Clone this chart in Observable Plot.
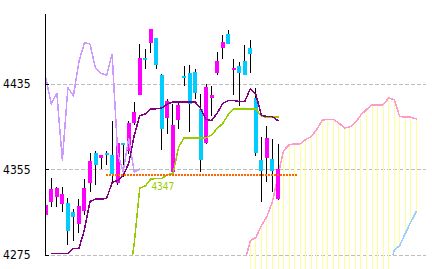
<!DOCTYPE html>
<html><head><meta charset="utf-8">
<script src="https://cdn.jsdelivr.net/npm/d3@7"></script>
<script src="https://cdn.jsdelivr.net/npm/@observablehq/plot@0.6"></script>
<style>body{margin:0;background:#fff;} svg{display:block;}</style>
</head><body><div id="chart"></div>
<script>
// Candles (index 0..42)
const opens  = [4312.6,4324.5,4329.1,4322.6,4323.5,4315.1,4303.9,4316.1,4342.5,4370.2,4365.8,4369.3,4368.1,4342.5,4378.9,4371.8,4398.2,4424.7,4458.3,4473.2,4477.6,4442.8,4402.9,4352.5,4401.3,4440.9,4444.9,4445.9,4411.0,4379.8,4421.6,4444.9,4468.3,4481.3,4447.7,4451.2,4455.8,4468.3,4421.6,4364.0,4365.8,4364.9,4327.0];
const highs  = [4322.5,4347.2,4338.8,4338.8,4328.5,4317.9,4327.3,4346.2,4370.2,4372.1,4368.6,4371.8,4400.1,4383.6,4379.2,4399.8,4417.8,4472.3,4467.0,4486.3,4477.6,4444.3,4420.4,4416.3,4417.2,4451.5,4452.1,4448.4,4425.6,4434.9,4432.8,4464.5,4480.7,4484.8,4457.7,4455.2,4470.8,4475.4,4430.9,4385.2,4395.4,4383.6,4378.9];
const lows   = [4312.0,4319.8,4319.8,4315.1,4284.6,4288.1,4295.5,4312.3,4333.8,4340.4,4355.3,4358.7,4343.2,4340.1,4347.8,4369.6,4396.1,4424.7,4448.4,4463.9,4448.4,4372.7,4388.2,4350.9,4392.9,4432.8,4389.8,4420.4,4352.5,4378.9,4404.8,4442.8,4458.3,4472.3,4424.1,4414.1,4442.8,4445.2,4367.4,4324.5,4343.2,4333.8,4326.1];
const closes = [4322.0,4336.6,4337.8,4331.9,4297.4,4310.8,4320.7,4337.6,4362.8,4359.3,4368.4,4369.3,4350.9,4379.6,4378.9,4398.2,4408.5,4458.9,4458.3,4486.3,4452.1,4392.4,4418.5,4396.1,4414.8,4440.9,4416.3,4426.5,4364.0,4431.8,4424.1,4456.1,4473.9,4472.3,4449.6,4444.9,4443.3,4462.9,4370.5,4353.1,4384.2,4353.1,4355.6];

// Conversion line (index 0..42)
const tenkan = [null,4276.9,4276.9,4276.9,4276.9,4281.5,4281.5,4299.3,4325.4,4327.7,4327.7,4328.2,4343.2,4345.0,4349.7,4360.9,4387.0,4405.7,4407.1,4412.0,4412.0,4412.7,4416.4,4418.5,4418.5,4418.5,4418.5,4418.5,4412.2,4402.0,4401.0,4408.0,4416.9,4419.7,4419.7,4418.8,4418.8,4430.9,4425.3,4405.7,4404.8,4404.5,4400.8];
// Base line (starts at index 15)
const kijunStart = 15;
const kijun = [4249.8,4286.2,4338.0,4339.9,4346.4,4346.9,4346.9,4350.6,4351.3,4375.8,4384.9,4384.9,4384.9,4384.9,4384.9,4387.5,4393.6,4398.2,4406.6,4412.0,4412.0,4412.0,4412.0,4412.0,4404.8,4404.3,4404.3,4404.3];
// Leading span A (starts at index 36)
const spanAStart = 36;
const spanA = [4269.4,4289.0,4291.8,4303.0,4311.4,4325.4,4349.7,4373.0,4378.2,4379.3,4379.3,4383.3,4386.1,4392.6,4401.5,4402.0,4402.0,4398.7,4394.0,4395.0,4399.2,4406.2,4411.3,4415.7,4415.7,4415.7,4422.0,4420.6,4404.8,4404.1,4404.1,4402.6];
// Leading span B (visible from index 62)
const spanBStart = 62;
const spanB = [4259.0,4279.7,4284.3,4295.5,4306.0,4316.1];
const lag = 25;
const yTicks = [4275, 4355, 4435];
const priceLevel = 4350;
const priceLabel = "4347";
const priceSpan = [11, 45.75];
const labelIndex = 19.1;

const xDomain = [-0.05, 68.85];
const yDomain = [4275, 4500];

const candles = closes.map((c, i) => ({i, o: opens[i], h: highs[i], l: lows[i], c}));
const bodies = candles.filter(d => d.o !== d.c);
const dojis = candles.filter(d => d.o === d.c);
const tenkanData = tenkan.map((v, i) => ({i, v})).filter(d => d.v != null);
const kijunData = kijun.map((v, k) => ({i: kijunStart + k, v}));
const chikouData = closes.slice(lag).map((v, k) => ({i: k, v}));
const aData = spanA.map((v, k) => ({i: spanAStart + k, v}));
const bData = spanB.map((v, k) => ({i: spanBStart + k, v}));
const bMap = new Map(bData.map(d => [d.i, d.v]));
const cloud = aData.filter(d => d.v >= yDomain[0]).map(d => ({i: d.i, a: d.v, b: bMap.get(d.i)}));
const cloudOpen = cloud.filter(d => d.b == null || d.b < yDomain[0]);
const cloudClosed = cloud.filter(d => d.b != null && d.b >= yDomain[0]);

const MAG = "#ff00ff", CY = "#00ccff";
const font = "'Liberation Sans Narrow','DejaVu Sans Condensed','Arial Narrow',sans-serif";
const crisp = {shapeRendering: "crispEdges"};

const chart = Plot.plot({
  width: 432, height: 269,
  marginLeft: 45, marginRight: 6, marginTop: 14, marginBottom: 14,
  style: {background: "#fff", fontFamily: font, overflow: "visible"},
  x: {domain: xDomain, axis: null},
  y: {domain: yDomain, axis: null},
  marks: [
    Plot.ruleY(yTicks, {stroke: "#bdbdbd", strokeDasharray: "4,2", ...crisp}),
    Plot.ruleX(cloudOpen, {x: "i", y1: "a", stroke: "#ffff99", ...crisp}),
    Plot.ruleX(cloudClosed, {x: "i", y1: "a", y2: "b", stroke: "#ffff99", ...crisp}),
    Plot.line(aData, {x: "i", y: "v", stroke: "#ff99cc", clip: true, ...crisp}),
    Plot.line(bData, {x: "i", y: "v", stroke: "#99ccff", clip: true, ...crisp}),
    Plot.ruleX(candles, {x: "i", y1: "h", y2: "l", stroke: "#000", clip: true, ...crisp}),
    Plot.ruleX(bodies, {x: "i", y1: "o", y2: "c", stroke: d => d.c > d.o ? MAG : CY, strokeWidth: 4, clip: true, ...crisp}),
    Plot.ruleX(dojis, {x: "i", y1: "o", y2: "c", insetTop: -1, insetBottom: -1, stroke: CY, strokeWidth: 4, clip: true, ...crisp}),
    Plot.line(chikouData, {x: "i", y: "v", stroke: "#cc99ff", clip: true, ...crisp}),
    Plot.line(kijunData, {x: "i", y: "v", stroke: "#99cc00", clip: true, ...crisp}),
    Plot.line(tenkanData, {x: "i", y: "v", stroke: "#800080", clip: true, ...crisp}),
    Plot.ruleY([priceLevel], {x1: priceSpan[0], x2: priceSpan[1], stroke: "#ff6600", strokeWidth: 2, strokeDasharray: "2,1", ...crisp}),
    Plot.text([priceLabel], {x: labelIndex, y: priceLevel, text: d => d, dy: 12, textAnchor: "start", fill: "#99cc00", fontSize: 10, fontFamily: font}),
    Plot.ruleX([xDomain[0]], {stroke: "#000", ...crisp}),
    Plot.axisY(yTicks, {anchor: "left", tickSize: 4, dx: 4, tickPadding: 15, fontSize: 12, fontFamily: font, stroke: "#000", fill: "#000", tickFormat: d => String(d), ...crisp})
  ]
});
document.getElementById("chart").appendChild(chart);
</script>
</body></html>
